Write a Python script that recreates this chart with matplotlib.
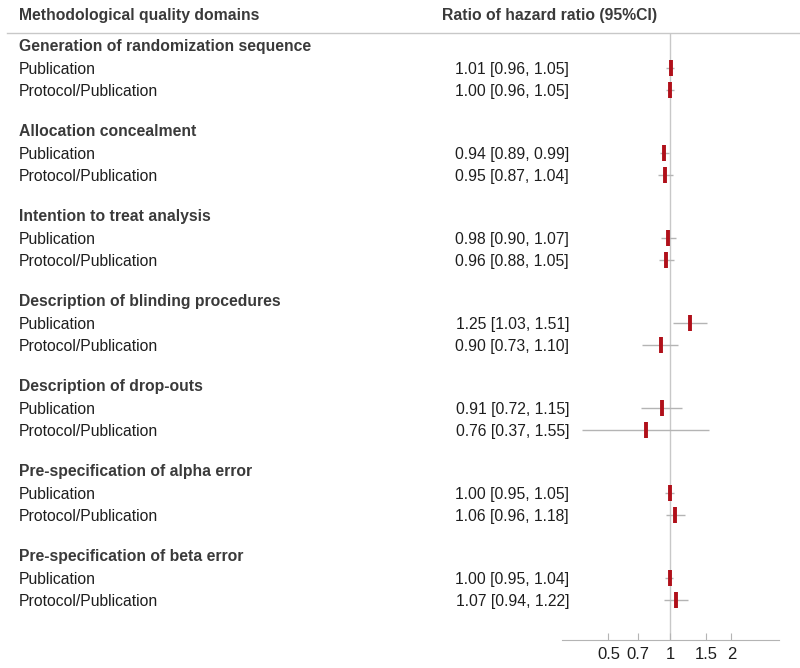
import matplotlib
matplotlib.use("Agg")
import matplotlib.pyplot as plt
from matplotlib.transforms import blended_transform_factory

plt.rcParams['font.family'] = ['Liberation Sans', 'DejaVu Sans']

domains = ["Generation of randomization sequence", "Allocation concealment",
           "Intention to treat analysis", "Description of blinding procedures",
           "Description of drop-outs", "Pre-specification of alpha error",
           "Pre-specification of beta error"]
sub_labels = ["Publication", "Protocol/Publication"]
est = [[1.01, 1.00], [0.94, 0.95], [0.98, 0.96], [1.25, 0.90],
       [0.91, 0.76], [1.00, 1.06], [1.00, 1.07]]
lo = [[0.96, 0.96], [0.89, 0.87], [0.90, 0.88], [1.03, 0.73],
      [0.72, 0.37], [0.95, 0.96], [0.95, 0.94]]
hi = [[1.05, 1.05], [0.99, 1.04], [1.07, 1.05], [1.51, 1.10],
      [1.15, 1.55], [1.05, 1.18], [1.04, 1.22]]
xticks = [0.5, 0.7, 1, 1.5, 2]
xtick_labels = ["0.5", "0.7", "1", "1.5", "2"]

W, H = 800, 668
fig = plt.figure(figsize=(W / 100, H / 100), dpi=100)
ax_left, ax_right, ax_top, ax_bot = 562, 779, 33, 640
ax = fig.add_axes([ax_left / W, (H - ax_bot) / H, (ax_right - ax_left) / W, (ax_bot - ax_top) / H])
ax.set_xscale('log')
ax.set_xlim(0.296, 3.42)
ax.set_ylim(ax_bot, ax_top)  # pixel-row units, top to bottom

group_step, title_off, row_offs = 85, 45, [68, 90]
ax.axvline(1, color='#c8c8c8', lw=1, zorder=1)

fs = 11.3
va = 'center_baseline'
tr = blended_transform_factory(fig.transFigure, ax.transData)
txt_col = '#1e1e1e'
for g, name in enumerate(domains):
    yt = title_off + g * group_step
    fig.text(19 / W, yt, name, transform=tr, fontsize=fs, fontweight='bold',
             color='#3a3a3a', va=va, ha='left')
    for k, lab in enumerate(sub_labels):
        y = row_offs[k] + g * group_step
        fig.text(19 / W, y, lab, transform=tr, fontsize=fs, color=txt_col,
                 va=va, ha='left')
        fig.text(569 / W, y, f"{est[g][k]:.2f} [{lo[g][k]:.2f}, {hi[g][k]:.2f}]",
                 transform=tr, fontsize=fs, color=txt_col, va=va, ha='right')
        ax.plot([lo[g][k], hi[g][k]], [y, y], color='#b4b4b4', lw=1, zorder=2,
                solid_capstyle='butt')
        ax.plot([est[g][k]], [y], marker='|', markersize=11, mew=2.8,
                color='#b0101a', zorder=3, linestyle='none')

# headers
fig.text(19 / W, 1 - 14 / H, "Methodological quality domains", fontsize=fs,
         fontweight='bold', color='#3a3a3a', va=va, ha='left')
fig.text(550 / W, 1 - 14 / H, "Ratio of hazard ratio (95%CI)", fontsize=fs,
         fontweight='bold', color='#3a3a3a', va=va, ha='center')
fig.add_artist(plt.Line2D([7 / W, 1], [1 - 33 / H, 1 - 33 / H], color='#c8c8c8', lw=1))

for s in ['top', 'left', 'right']:
    ax.spines[s].set_visible(False)
ax.spines['bottom'].set_color('#b4b4b4')
ax.set_yticks([])
ax.set_xticks(xticks)
ax.set_xticklabels(xtick_labels)
ax.minorticks_off()
ax.tick_params(axis='x', direction='in', length=5, color='#b4b4b4',
               labelsize=12, labelcolor=txt_col, pad=5)
ax.patch.set_alpha(0)

fig.savefig("out.png", dpi=100)
